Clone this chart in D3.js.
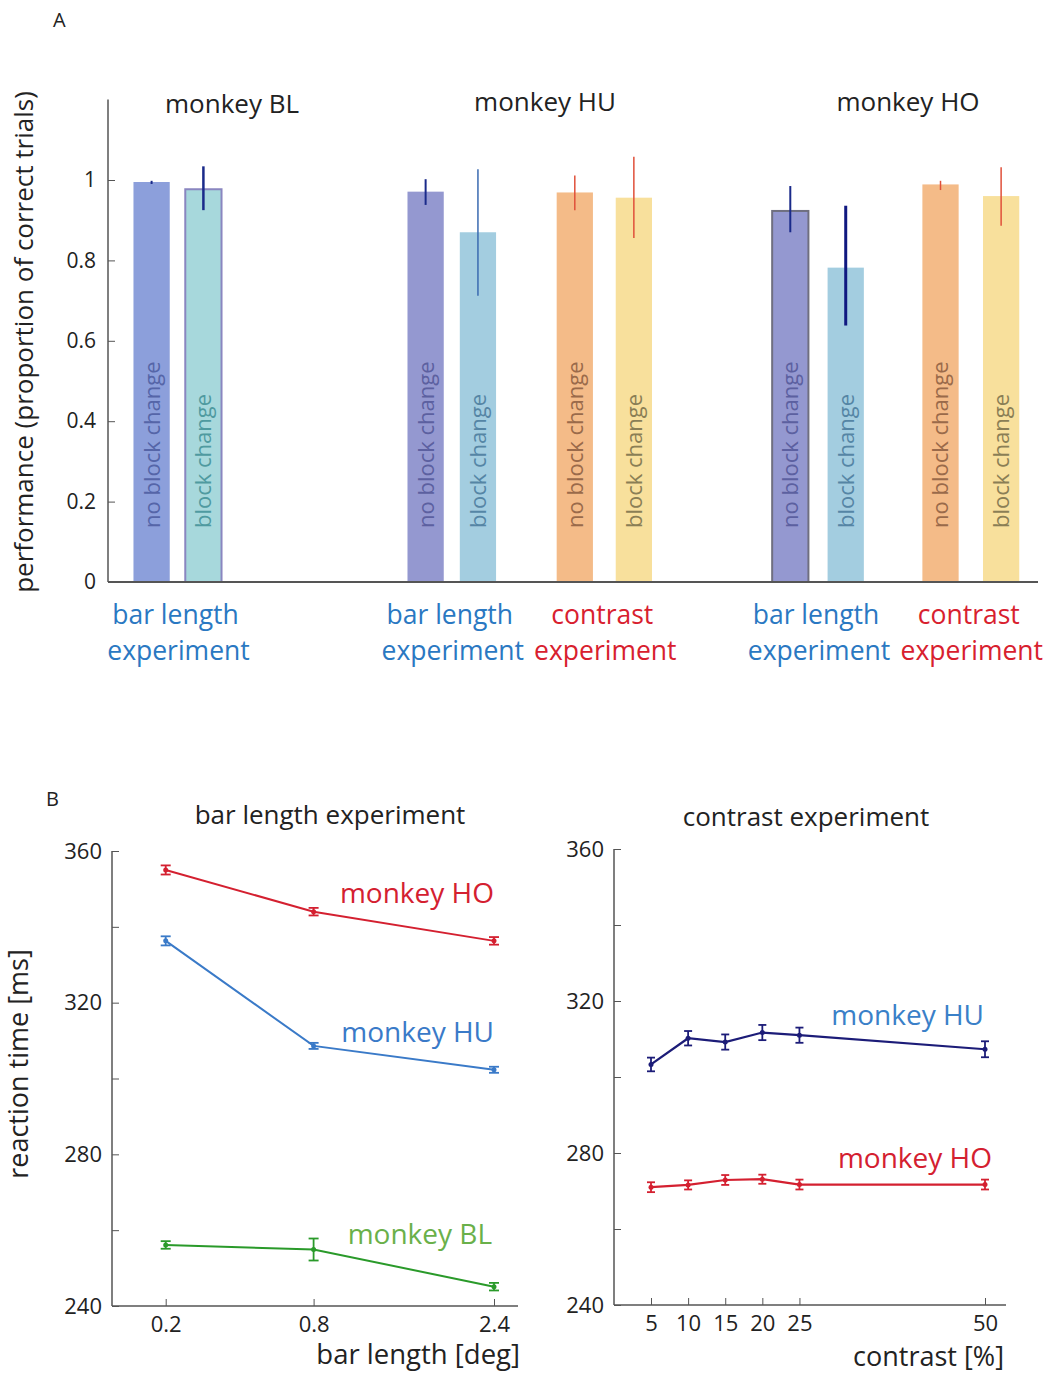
<!DOCTYPE html>
<html><head><meta charset="utf-8">
<script src="https://cdn.jsdelivr.net/npm/d3@7"></script>
<style>body{margin:0;background:#fff} text{font-family:"Open Sans",sans-serif}</style>
</head><body><svg id="c" width="1051" height="1376"></svg>
<script>
// ---------- Panel A data ----------
const barMonkeys = ["BL","BL","HU","HU","HU","HU","HO","HO","HO","HO"];
const barExperiments = ["bar length","bar length","bar length","bar length","contrast","contrast","bar length","bar length","contrast","contrast"];
const barConditions = ["no block change","block change","no block change","block change","no block change","block change","no block change","block change","no block change","block change"];
const barPositions = [0, 1, 5.29, 6.30, 8.17, 9.31, 12.33, 13.40, 15.23, 16.40];
const barPerformance = [0.995, 0.977, 0.971, 0.870, 0.969, 0.956, 0.923, 0.782, 0.989, 0.960];
const barErrLow  = [0.990, 0.925, 0.938, 0.712, 0.925, 0.856, 0.870, 0.638, 0.975, 0.886];
const barErrHigh = [0.998, 1.034, 1.002, 1.027, 1.011, 1.058, 0.985, 0.936, 0.998, 1.032];
const perfTicks = [0, 0.2, 0.4, 0.6, 0.8, 1];
const perfTickLabels = ["0", "0.2", "0.4", "0.6", "0.8", "1"];
const monkeyTitles = ["monkey BL", "monkey HU", "monkey HO"];

// ---------- Panel B data ----------
const barLengths = [0.2, 0.8, 2.4];
const barLengthTickLabels = ["0.2", "0.8", "2.4"];
const rtBarHO = [355.0, 344.0, 336.3];
const rtBarHOErr = [1.2, 1.0, 1.0];
const rtBarHU = [336.3, 308.6, 302.3];
const rtBarHUErr = [1.2, 0.8, 0.8];
const rtBarBL = [256.1, 254.9, 245.1];
const rtBarBLErr = [1.0, 2.9, 1.0];
const contrasts = [5, 10, 15, 20, 25, 50];
const rtConHU = [303.3, 310.2, 309.2, 311.7, 311.0, 307.3];
const rtConHUErr = [1.8, 1.9, 2.0, 2.0, 2.0, 2.1];
const rtConHO = [271.0, 271.6, 272.9, 273.1, 271.7, 271.7];
const rtConHOErr = [1.3, 1.2, 1.3, 1.2, 1.3, 1.3];
const rtTicks = [240, 260, 280, 300, 320, 340, 360];
const rtTickLabels = ["240", "", "280", "", "320", "", "360"];

// ---------- styles ----------
const axisCol = "#555";
const barStyle = {
  "BL|no block change": {fill:"#8c9fdb", stroke:"none", text:"#5565a8", err:"#1a2a8a", ew:2},
  "BL|block change": {fill:"#a7d8dc", stroke:"#8a86c0", text:"#4f9aa0", err:"#1a2a8a", ew:2.5},
  "HU|bar length|no block change": {fill:"#9498d0", stroke:"none", text:"#5c60a0", err:"#1a2a8a", ew:2},
  "HU|bar length|block change": {fill:"#a3cde0", stroke:"none", text:"#5585a5", err:"#3a6ab0", ew:1.5},
  "HU|contrast|no block change": {fill:"#f4bb88", stroke:"none", text:"#9a6a4a", err:"#e0503a", ew:1.5},
  "HU|contrast|block change": {fill:"#f8e09c", stroke:"none", text:"#8a7e55", err:"#e0503a", ew:1.5},
  "HO|bar length|no block change": {fill:"#9498d0", stroke:"#6f6f80", text:"#5c60a0", err:"#1a2a8a", ew:2},
  "HO|bar length|block change": {fill:"#a3cde0", stroke:"none", text:"#5585a5", err:"#101880", ew:3},
  "HO|contrast|no block change": {fill:"#f4bb88", stroke:"none", text:"#9a6a4a", err:"#e0503a", ew:1.5},
  "HO|contrast|block change": {fill:"#f8e09c", stroke:"none", text:"#8a7e55", err:"#e0503a", ew:1.5}
};
function styleFor(i){
  if (barMonkeys[i] === "BL") return barStyle["BL|" + barConditions[i]];
  return barStyle[barMonkeys[i] + "|" + barExperiments[i] + "|" + barConditions[i]];
}

const svg = d3.select("#c");
svg.append("rect").attr("width",1051).attr("height",1376).attr("fill","#fff");

// ---------- Panel A ----------
const yA = d3.scaleLinear().domain([0, 1.2]).range([582, 99.6]);
const xA = d3.scaleLinear().domain([0, 1]).range([151.6, 203.4]);
const bw = xA(0.7) - xA(0);

svg.append("text").attr("x",53).attr("y",27).attr("font-size",20).attr("fill","#222").text("A");

const bars = svg.append("g");
barPerformance.forEach((v, i) => {
  const s = styleFor(i);
  const cx = xA(barPositions[i]);
  bars.append("rect").attr("x", cx - bw/2).attr("y", yA(v)).attr("width", bw)
    .attr("height", yA(0) - yA(v)).attr("fill", s.fill)
    .attr("stroke", s.stroke).attr("stroke-width", s.stroke === "none" ? 0 : 2);
  bars.append("line").attr("x1", cx).attr("x2", cx).attr("y1", yA(barErrLow[i])).attr("y2", yA(barErrHigh[i]))
    .attr("stroke", s.err).attr("stroke-width", s.ew);
  bars.append("text").attr("transform", `translate(${cx},${yA(0) - 54}) rotate(-90)`)
    .attr("dy", "0.36em").attr("font-size", 22).attr("fill", s.text).text(barConditions[i]);
});

// axes A
const axA = svg.append("g").attr("transform", "translate(108,0)")
  .call(d3.axisLeft(yA).tickValues(perfTicks).tickFormat((d,i) => perfTickLabels[i]).tickSizeInner(-7).tickSizeOuter(0).tickPadding(12));
axA.select(".domain").remove();
axA.selectAll(".tick line").attr("stroke", axisCol);
axA.selectAll(".tick text").attr("font-size", 21).attr("fill", "#222").attr("font-family", "Open Sans");
svg.append("line").attr("x1",108).attr("x2",108).attr("y1",yA(1.2)).attr("y2",yA(0)).attr("stroke",axisCol).attr("stroke-width",1.5);
svg.append("line").attr("x1",108).attr("x2",1038).attr("y1",yA(0)).attr("y2",yA(0)).attr("stroke",axisCol).attr("stroke-width",2);

svg.append("text").attr("transform","translate(33,342) rotate(-90)").attr("text-anchor","middle")
  .attr("font-size",26).attr("fill","#222").text("performance (proportion of correct trials)");

const titlePosA = [[232,113],[545,111],[908,111]];
monkeyTitles.forEach((t,i) => svg.append("text").attr("x",titlePosA[i][0]).attr("y",titlePosA[i][1])
  .attr("text-anchor","middle").attr("font-size",26).attr("fill","#222").text(t));

// experiment labels under groups (centered on each pair of bars)
for (let i = 0; i < barPositions.length; i += 2) {
  const cx = (xA(barPositions[i]) + xA(barPositions[i+1])) / 2;
  const col = barExperiments[i] === "contrast" ? "#d8202e" : "#2a78c2";
  const g = svg.append("g").attr("font-size", 26.5).attr("fill", col).attr("text-anchor","middle");
  g.append("text").attr("x", cx - 2).attr("y", 624).text(barExperiments[i]);
  g.append("text").attr("x", cx + 1).attr("y", 660).text("experiment");
}

// ---------- Panel B ----------
svg.append("text").attr("x",46).attr("y",806).attr("font-size",20).attr("fill","#222").text("B");

function rtAxes(x0, x1, yScale){
  const ax = svg.append("g").attr("transform", `translate(${x0},0)`)
    .call(d3.axisLeft(yScale).tickValues(rtTicks).tickFormat((d,i) => rtTickLabels[i]).tickSizeInner(-7).tickSizeOuter(0).tickPadding(10));
  ax.select(".domain").remove();
  ax.selectAll(".tick line").attr("stroke", axisCol);
  ax.selectAll(".tick text").attr("font-size", 22).attr("fill", "#222").attr("font-family", "Open Sans");
  svg.append("line").attr("x1",x0).attr("x2",x0).attr("y1",yScale(360)).attr("y2",yScale(240)).attr("stroke",axisCol).attr("stroke-width",1.5);
  svg.append("line").attr("x1",x0).attr("x2",x1).attr("y1",yScale(240)).attr("y2",yScale(240)).attr("stroke",axisCol).attr("stroke-width",1.5);
}

function series(xScale, yScale, xs, ys, es, color, cap, lw){
  const g = svg.append("g");
  g.append("path").datum(xs.map((x,i)=>[x,ys[i]]))
    .attr("d", d3.line().x(d=>xScale(d[0])).y(d=>yScale(d[1])))
    .attr("fill","none").attr("stroke",color).attr("stroke-width",lw);
  xs.forEach((x,i) => {
    const cx = xScale(x), yl = yScale(ys[i]-es[i]), yh = yScale(ys[i]+es[i]);
    g.append("line").attr("x1",cx).attr("x2",cx).attr("y1",yl).attr("y2",yh).attr("stroke",color).attr("stroke-width",1.8);
    g.append("line").attr("x1",cx-cap).attr("x2",cx+cap).attr("y1",yl).attr("y2",yl).attr("stroke",color).attr("stroke-width",1.8);
    g.append("line").attr("x1",cx-cap).attr("x2",cx+cap).attr("y1",yh).attr("y2",yh).attr("stroke",color).attr("stroke-width",1.8);
    g.append("circle").attr("cx",cx).attr("cy",yScale(ys[i])).attr("r",2.5).attr("fill",color);
  });
}

// left: bar length experiment
const yBL = d3.scaleLinear().domain([240, 360]).range([1306, 851]);
const xBL = d3.scalePow().exponent(0.35).domain([0.2, 2.4]).range([165.7, 494]);
rtAxes(112, 518, yBL);
const axBx = svg.append("g").attr("transform", `translate(0,${yBL(240)})`)
  .call(d3.axisBottom(xBL).tickValues(barLengths).tickFormat((d,i)=>barLengthTickLabels[i]).tickSizeInner(-7).tickSizeOuter(0).tickPadding(10));
axBx.select(".domain").remove();
axBx.selectAll(".tick line").attr("stroke", axisCol);
axBx.selectAll(".tick text").attr("font-size", 22).attr("fill","#222").attr("font-family","Open Sans");

series(xBL, yBL, barLengths, rtBarHO, rtBarHOErr, "#d42030", 5, 2);
series(xBL, yBL, barLengths, rtBarHU, rtBarHUErr, "#3a7ac8", 5, 2);
series(xBL, yBL, barLengths, rtBarBL, rtBarBLErr, "#2a9a2a", 5, 2);

svg.append("text").attr("x",330).attr("y",824).attr("text-anchor","middle").attr("font-size",26).attr("fill","#222").text("bar length experiment");
svg.append("text").attr("x",494).attr("y",903).attr("text-anchor","end").attr("font-size",28).attr("fill","#d42030").text("monkey HO");
svg.append("text").attr("x",494).attr("y",1042).attr("text-anchor","end").attr("font-size",28).attr("fill","#3a7ac8").text("monkey HU");
svg.append("text").attr("x",492).attr("y",1244).attr("text-anchor","end").attr("font-size",28).attr("fill","#6ab04a").text("monkey BL");
svg.append("text").attr("x",520).attr("y",1364).attr("text-anchor","end").attr("font-size",27.5).attr("fill","#222").text("bar length [deg]");
svg.append("text").attr("transform","translate(28,1064) rotate(-90)").attr("text-anchor","middle").attr("font-size",27).attr("fill","#222").text("reaction time [ms]");

// right: contrast experiment
const yCR = d3.scaleLinear().domain([240, 360]).range([1305, 849]);
const xCR = d3.scaleLinear().domain([5, 50]).range([651, 985]);
rtAxes(614, 1006, yCR);
const axCx = svg.append("g").attr("transform", `translate(0,${yCR(240)})`)
  .call(d3.axisBottom(xCR).tickValues(contrasts).tickFormat(d3.format("d")).tickSizeInner(-7).tickSizeOuter(0).tickPadding(10));
axCx.select(".domain").remove();
axCx.selectAll(".tick line").attr("stroke", axisCol);
axCx.selectAll(".tick text").attr("font-size", 22).attr("fill","#222").attr("font-family","Open Sans");

series(xCR, yCR, contrasts, rtConHU, rtConHUErr, "#1c1c78", 4, 2.2);
series(xCR, yCR, contrasts, rtConHO, rtConHOErr, "#d42030", 4, 2.2);

svg.append("text").attr("x",806).attr("y",826).attr("text-anchor","middle").attr("font-size",26).attr("fill","#222").text("contrast experiment");
svg.append("text").attr("x",984).attr("y",1025).attr("text-anchor","end").attr("font-size",28).attr("fill","#3a80c8").text("monkey HU");
svg.append("text").attr("x",992).attr("y",1168).attr("text-anchor","end").attr("font-size",28).attr("fill","#d42030").text("monkey HO");
svg.append("text").attr("x",1004).attr("y",1366).attr("text-anchor","end").attr("font-size",27).attr("fill","#222").text("contrast [%]");
</script></body></html>
